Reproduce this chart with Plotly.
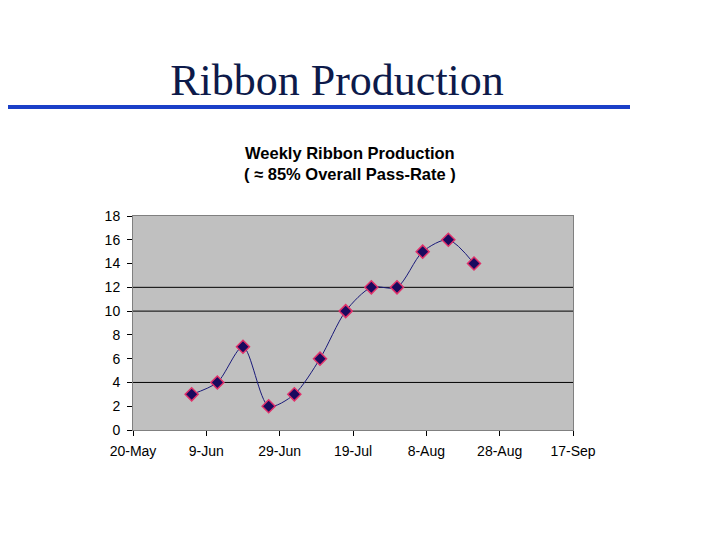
import plotly.graph_objects as go

dates = ["2001-06-05", "2001-06-12", "2001-06-19", "2001-06-26", "2001-07-03", "2001-07-10",
         "2001-07-17", "2001-07-24", "2001-07-31", "2001-08-07", "2001-08-14", "2001-08-21"]
ribbons = [3, 4, 7, 2, 3, 6, 10, 12, 12, 15, 16, 14]
gridlines = [4, 10, 12]
x_start = "2001-05-20"
x_end = "2001-09-17"

OFF = 8  # page body margin
L, R, T, B = 133, 573, 216, 430

fig = go.Figure()
fig.add_trace(go.Scatter(
    x=dates, y=ribbons, mode="lines+markers",
    line=dict(shape="spline", smoothing=0.8, color="#1a1a7a", width=1),
    marker=dict(symbol="diamond", size=10, color="#1a0a5e",
                line=dict(color="#e0306a", width=1.5)),
    showlegend=False,
))

for g in gridlines:
    fig.add_shape(type="line", xref="paper", x0=0, x1=1, yref="y", y0=g, y1=g,
                  line=dict(color="black", width=1), layer="below")

fig.add_shape(type="line", xref="paper", yref="paper",
              x0=(2 - L) / (R - L), x1=(630 - L) / (R - L),
              y0=(B - 107) / (B - T), y1=(B - 107) / (B - T),
              line=dict(color="#1a3fc8", width=4))

fig.add_annotation(text="<b>Weekly Ribbon Production</b><br><b>( ≈ 85% Overall Pass-Rate )</b>",
                   xref="paper", yref="paper", x=(350 - L) / (R - L), y=(B - 163) / (B - T),
                   xanchor="center", yanchor="middle",
                   showarrow=False, align="center",
                   font=dict(family="Arial", size=16.5, color="black"))

fig.update_layout(
    width=720, height=540,
    margin=dict(l=L - OFF, r=720 - R + OFF, t=T - OFF, b=540 - B + OFF),
    paper_bgcolor="white", plot_bgcolor="#c0c0c0",
    title=dict(text="Ribbon Production", x=(337 - OFF) / 720, xanchor="center",
               y=1 - (80 - OFF) / 540, yanchor="middle",
               font=dict(family="Liberation Serif", size=44, color="#0d1a4a")),
    xaxis=dict(type="date", range=[x_start, x_end], dtick=20 * 86400000, tick0=x_start,
               tickformat="%-d-%b", showgrid=False, zeroline=False,
               ticks="outside", ticklen=5, tickcolor="black", ticklabelstandoff=3,
               showline=True, linecolor="#808080", linewidth=1, mirror=True,
               tickfont=dict(family="Arial", size=14, color="black")),
    yaxis=dict(range=[0, 18], dtick=2, showgrid=False, zeroline=False,
               ticks="outside", ticklen=5, tickcolor="black", ticklabelstandoff=4,
               showline=True, linecolor="#808080", linewidth=1, mirror=True,
               tickfont=dict(family="Arial", size=14, color="black")),
)

fig.write_html("out.html")
